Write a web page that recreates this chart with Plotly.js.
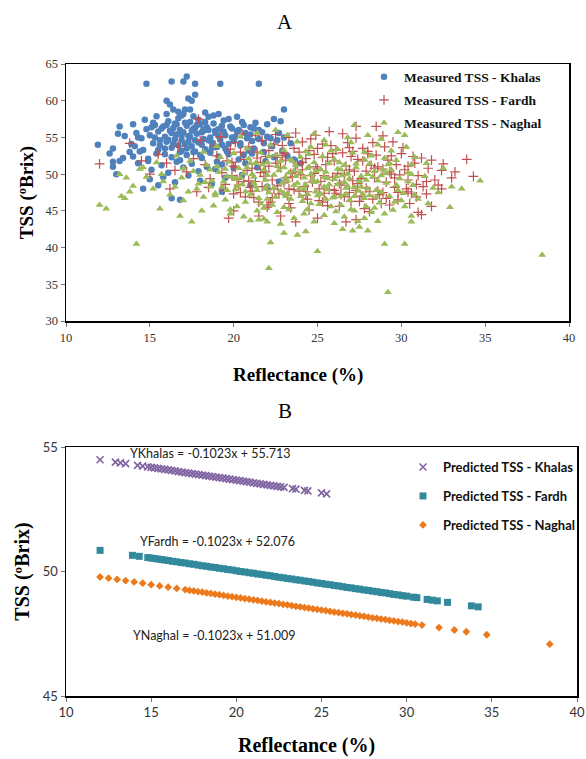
<!DOCTYPE html>
<html>
<head>
<meta charset="utf-8">
<script src="https://cdn.plot.ly/plotly-3.0.1.min.js"></script>
<style>html,body{margin:0;padding:0;background:#fff}#chart{width:586px;height:759px}</style>
</head>
<body>
<div id="chart"></div>
<script>
// ---------- Panel A : measured TSS vs reflectance ----------
const khalasX = [11.9,14.8,16.3,17.0,17.2,17.7,19.2,21.5,16.0,17.3,17.5,17.7,16.2,16.4,16.7,17.1,17.4,18.3,19.1,20.2,23.0,22.4,22.8,13.2,13.1,12.8,12.6,12.8,12.8,13.0,13.2,14.6,15.5,16.3,16.8,19.3,21.0,22.0,22.7,23.6,23.2,24.0,
14.2,14.5,14.8,15.0,15.2,15.3,15.5,15.6,15.8,15.9,16.0,16.1,16.2,16.3,16.4,16.5,16.6,16.7,16.8,16.9,17.0,17.1,17.2,17.3,17.4,17.5,17.6,17.7,17.8,17.9,18.0,18.1,18.2,18.3,18.4,18.5,18.6,18.7,18.8,18.9,19.0,19.1,19.2,19.4,19.5,19.6,19.8,20.0,20.2,20.4,20.6,20.8,21.0,21.2,21.5,21.8,22.0,22.3,22.6,23.0,
13.8,14.0,14.3,14.6,14.9,15.1,15.4,15.7,15.9,16.1,16.3,16.6,16.8,17.0,17.2,17.5,17.7,17.9,18.1,18.4,18.6,18.9,19.1,19.3,19.7,20.0,20.3,20.7,21.1,21.4,21.9,22.4,15.0,15.8,16.5,17.3,18.0,18.7,19.5,20.5,
14.0,14.7,15.4,16.0,16.9,17.6,18.8,19.7,20.5,21.3,21.0,22.0,13.5,13.9,14.1,15.6,16.4,17.2,18.2,19.3,20.1,20.9,21.7,22.7,23.4,18.5,17.8,16.6,19.9,15.1,
15.3,15.7,16.1,16.5,16.9,17.3,17.7,18.1,18.5,18.9,19.3,19.7,15.5,15.9,16.3,16.7,17.1,17.5,17.9,18.3,18.7,19.1,19.5,19.9,20.3,20.7,21.1,21.5,14.4,14.9,15.2,16.8,17.4,18.6,19.0,20.6,21.2,21.8,22.2,22.9,16.0,16.9,17.6,18.2,17.0,18.0,19.4,20.4,13.4,14.3];
const khalasY = [54.0,62.3,62.6,62.6,63.3,62.3,62.3,62.3,60.0,60.3,60.0,60.8,59.5,58.8,58.5,58.8,58.8,58.4,58.2,57.8,58.8,57.5,57.2,56.5,55.5,53.5,52.8,51.7,51.0,50.0,51.8,48.0,48.5,46.7,46.5,47.6,48.5,48.3,49.0,52.0,52.5,51.5,
55.6,54.9,56.1,55.3,54.2,56.7,55.8,53.9,56.5,55.1,54.4,57.2,55.9,53.6,56.3,54.8,55.4,57.6,56.0,53.2,55.7,54.1,56.6,55.2,57.1,53.8,56.2,54.6,55.5,57.4,56.8,54.0,55.9,53.4,56.4,57.8,55.0,54.3,56.9,55.6,53.7,56.1,54.7,57.3,55.3,53.1,56.5,54.5,55.8,53.9,56.7,54.9,55.4,53.5,56.0,54.2,55.1,53.8,54.6,55.0,
53.0,52.4,51.5,53.3,52.1,50.6,52.8,51.2,53.5,50.2,52.3,51.7,53.0,50.9,52.6,51.4,53.1,50.4,52.2,51.0,52.9,50.7,52.4,51.3,52.7,50.8,52.0,51.5,52.8,50.9,51.8,52.3,49.3,49.6,48.9,49.8,49.1,48.7,49.5,49.9,
56.8,57.4,57.9,58.2,58.0,57.9,58.0,57.5,57.1,57.0,56.4,56.8,55.2,54.1,53.8,54.6,54.1,53.5,54.8,54.0,55.1,53.2,55.7,55.6,54.2,56.0,56.7,56.8,56.2,56.4,
55.0,56.2,54.7,56.9,55.3,54.4,56.3,55.7,54.6,55.9,56.6,54.1,53.3,52.7,55.6,53.9,57.0,55.9,54.3,57.1,53.6,55.2,53.5,55.0,56.0,55.6,54.5,54.8,53.1,51.8,57.0,51.9,55.1,53.0,51.7,52.6,56.2,53.0,54.9,53.2,56.7,54.6,53.0,56.1,58.2,52.6,55.8,54.2,52.2,55.0];

const fardhX = [12.0,13.8,14.5,15.0,16.5,17.9,19.7,20.0,21.5,22.0,22.8,23.7,25.0,26.7,27.3,27.3,28.5,31.0,31.2,31.8,32.2,32.4,33.0,33.9,34.3,30.5,31.5,29.8,30.4,
19.0,19.3,19.5,19.8,20.0,20.2,20.4,20.6,20.8,21.0,21.2,21.4,21.6,21.8,22.0,22.2,22.4,22.6,22.8,23.0,23.2,23.4,23.6,23.8,24.0,24.2,24.4,24.6,24.8,25.0,25.2,25.4,25.6,25.8,26.0,26.2,26.4,26.6,26.8,27.0,27.2,27.4,27.6,27.8,28.0,28.2,28.4,28.6,28.8,29.0,29.2,29.4,29.6,29.8,30.0,30.2,30.4,30.6,30.8,31.0,31.3,31.6,32.0,32.5,33.2,
21.5,22.1,22.7,23.3,23.9,24.5,25.1,25.7,26.3,26.9,27.5,28.1,28.7,29.3,
15.5,16.0,16.7,17.2,17.6,18.0,18.3,18.6,18.9,19.2,19.6,20.1,20.5,20.9,21.3,21.7,22.1,22.5,22.9,23.3,23.7,24.1,24.5,24.9,25.3,25.7,26.1,26.5,26.9,27.3,27.7,28.3,28.9,29.5,30.1,30.7,31.2,31.8,32.4,
20.3,20.7,21.1,21.9,22.3,23.1,23.5,24.3,24.7,25.5,25.9,26.7,27.1,27.9,28.5,29.1,29.7,30.3,30.9,31.5,24.1,25.3,26.5,27.7,28.9,22.5,23.7,21.3,19.9,18.5,17.8,16.2,
19.4,19.9,20.4,20.9,21.4,21.9,22.4,22.9,23.4,23.9,24.4,24.9,25.4,25.9,26.4,26.9,27.4,27.9,28.4,28.9,29.4,29.9,30.4,30.9,
20.1,20.6,21.1,21.6,22.1,22.6,23.1,23.6,24.1,24.6,25.1,25.6,26.1,26.6,27.1,27.6,28.1,28.6,29.1,29.6,
22.3,23.3,24.3,25.3,26.3,27.3,28.3,29.3,21.7,24.8,26.0,27.0,23.0,25.0,28.0,20.0];
const fardhY = [51.4,54.2,51.8,50.0,50.5,57.5,44.0,45.0,44.3,45.5,44.3,43.5,44.0,43.5,43.8,56.5,56.5,44.8,44.5,45.6,48.5,48.0,49.5,52.0,49.7,46.0,49.0,47.5,47.6,
52.5,50.2,48.6,53.4,51.1,49.3,47.5,52.0,50.5,48.2,46.8,53.0,51.6,49.7,47.9,46.2,54.1,52.3,50.9,48.8,47.1,45.4,53.5,51.4,49.9,48.3,46.6,54.8,52.7,50.7,49.0,47.4,45.7,53.9,51.8,50.1,48.5,46.9,54.3,52.4,50.4,48.7,47.0,45.3,53.1,51.2,49.5,47.7,46.0,53.7,51.9,50.0,48.2,46.5,52.8,50.6,49.2,47.4,51.5,49.8,48.3,50.8,49.2,51.4,50.3,
46.2,45.8,47.3,46.0,47.7,45.1,46.4,47.9,45.6,47.5,46.3,44.9,47.2,45.8,
52.7,51.5,53.8,50.3,52.1,54.6,51.3,49.4,53.9,55.1,51.8,54.3,55.5,53.7,55.3,54.6,53.2,55.4,53.9,55.0,55.6,54.4,53.2,55.3,54.1,55.8,53.3,55.5,53.6,54.9,53.5,54.3,55.2,54.4,53.6,52.4,52.2,51.9,50.5,
48.5,46.9,50.8,52.4,49.2,51.9,49.6,52.1,48.9,51.3,49.6,51.1,49.1,50.4,52.6,48.9,51.3,48.0,46.9,47.3,50.6,52.3,52.9,51.8,50.7,51.5,50.3,49.0,49.8,48.2,47.6,48.0,
47.8,51.6,53.0,49.1,52.2,50.3,48.0,52.6,50.1,53.0,47.6,51.0,49.8,52.8,47.2,50.6,52.0,48.1,50.8,47.5,52.5,49.9,51.1,48.6,
50.9,49.0,47.7,50.2,51.1,48.4,49.5,47.9,51.6,49.8,48.0,52.3,47.4,49.9,53.1,49.4,47.6,51.0,46.7,49.5,
46.8,48.0,47.1,46.2,48.7,47.8,46.6,50.3,48.3,50.1,47.8,46.3,52.9,53.5,52.8,47.3];

const naghalX = [12.0,12.4,13.3,13.5,14.2,15.6,16.8,17.5,18.1,21.0,21.5,22.0,22.2,22.1,23.0,23.8,24.3,25.0,26.5,27.1,27.5,28.0,29.0,29.2,30.2,30.6,30.6,32.9,33.6,34.7,38.4,27.2,29.8,30.2,30.3,30.8,26.8,25.5,22.5,13.2,13.6,14.4,15.7,31.5,30.6,29.7,
16.5,16.9,17.3,17.6,17.9,18.2,18.4,18.7,18.9,19.1,19.3,19.5,19.7,19.9,20.1,20.3,20.5,20.7,20.9,21.1,21.3,21.5,21.7,21.9,22.1,22.3,22.5,22.7,22.9,23.1,23.3,23.5,23.7,23.9,24.1,24.3,24.5,24.7,24.9,25.1,25.3,25.5,25.7,25.9,26.1,26.3,26.5,26.7,26.9,27.1,27.3,27.5,27.7,27.9,28.1,28.3,28.5,28.7,28.9,29.1,29.3,29.5,29.7,29.9,30.1,30.4,30.7,31.0,31.4,31.9,32.5,
22.0,22.4,22.8,23.2,23.6,24.0,24.4,24.8,25.2,25.6,26.0,26.4,26.8,27.2,27.6,28.0,28.4,28.8,23.0,24.2,25.4,26.6,27.8,21.2,20.6,19.4,18.6,25.0,26.2,24.6,23.4,22.6,21.8,21.0,20.2,19.6,18.0,17.0,16.2,15.8,15.2,14.8,14.0,13.8,
20.0,20.8,21.6,22.2,23.0,23.8,24.6,25.4,26.2,27.0,27.8,28.6,29.4,28.2,29.0,26.0,24.0,22.0,19.2,18.2,17.4,16.6,15.4,14.6,19.0,20.4,21.4,23.2,24.8,28.0,28.8,
18.8,19.8,20.6,21.4,22.0,22.8,23.6,24.2,24.8,25.4,26.0,26.6,27.2,27.8,28.4,29.0,29.6,30.2,30.8,31.6,32.2,33.0,24.4,25.8,27.4,26.4,23.0,21.8,28.6,
18.3,18.9,19.5,20.1,20.7,21.3,21.9,22.5,23.1,23.7,24.3,24.9,25.5,26.1,26.7,27.3,27.9,28.5,29.1,29.7,
19.0,19.6,20.2,20.8,21.4,22.0,22.6,23.2,23.8,24.4,25.0,25.6,26.2,26.8,27.4,28.0,28.6,29.2,29.8,30.4,
21.2,21.8,22.4,23.0,23.6,24.2,24.8,25.4,26.0,26.6,27.2,27.8,22.1,23.3,24.5,25.7,26.9,28.1,29.3,30.0,
17.0,17.8,18.6,19.8,20.4,21.0,21.6,22.8,23.4,24.0,24.6,25.2,25.8,26.4,27.0,27.6,28.2,28.8,29.4,30.6];
const naghalY = [45.8,45.3,47.0,46.7,40.5,45.3,44.3,43.5,45.0,43.7,43.8,43.5,40.7,37.2,42.0,41.7,42.2,39.5,42.5,42.3,42.8,42.3,40.5,33.9,40.5,43.5,44.3,45.5,48.0,49.1,39.0,56.7,55.7,55.3,53.7,52.3,55.0,54.0,56.0,50.0,49.5,50.7,50.0,51.5,50.0,48.5,
48.3,49.5,47.6,50.4,48.7,46.9,51.2,49.1,47.4,50.3,48.2,46.5,51.7,49.6,47.9,50.8,48.6,46.2,52.1,50.0,48.3,46.7,51.3,49.2,47.5,45.8,52.6,50.5,48.8,47.0,45.2,51.8,49.7,48.0,46.3,53.1,51.0,49.3,47.6,45.9,52.4,50.3,48.6,46.8,44.9,51.6,49.8,48.1,46.4,52.9,50.9,49.0,47.3,45.6,51.4,49.6,47.8,46.1,50.6,48.8,47.0,45.1,51.9,49.4,47.4,50.2,48.5,46.6,49.7,48.1,50.8,
48.4,49.9,47.7,49.1,48.5,50.2,47.3,48.9,50.6,47.9,49.3,47.0,50.1,48.2,49.7,48.0,50.4,47.5,50.9,49.5,48.3,51.2,46.7,49.6,50.1,49.0,50.6,49.0,48.6,46.0,46.6,44.8,45.4,47.2,45.6,47.8,49.9,46.4,47.2,49.0,48.0,49.6,48.4,47.6,
52.8,53.5,52.9,54.0,53.3,54.4,53.7,54.6,53.4,54.3,53.0,54.0,53.2,52.5,52.2,52.0,52.3,51.6,52.3,53.0,51.8,52.5,51.6,50.9,53.8,55.1,55.6,55.3,55.5,55.3,54.8,
45.7,44.6,44.2,45.0,46.6,43.2,44.0,44.6,43.5,44.4,43.3,44.2,45.0,44.0,45.4,44.6,46.2,45.6,47.2,46.0,47.5,48.3,45.2,45.6,43.6,45.8,45.5,43.9,43.6,
48.9,47.1,50.7,49.3,47.6,51.5,48.0,46.9,49.6,51.2,48.6,50.4,46.6,49.7,47.3,51.4,49.2,46.9,50.1,48.5,
51.0,49.7,48.4,50.9,47.8,49.9,51.1,47.3,48.8,50.8,47.1,49.4,50.7,48.4,47.7,50.0,49.1,51.3,47.8,49.0,
48.8,50.6,48.1,47.4,50.5,48.0,51.6,49.6,46.9,48.9,47.0,52.0,52.4,50.2,52.7,51.5,49.4,47.1,51.5,46.4,
50.8,48.0,48.3,45.2,49.5,51.5,46.0,51.8,52.0,47.0,50.0,47.3,53.2,50.6,45.2,48.3,44.8,49.8,50.6,51.3];

// ---------- Panel B : predicted TSS vs reflectance ----------
const predKhalasX = [12.0,12.9,13.2,13.5,14.2,14.5,14.8,15.0,15.2,15.4,15.6,15.8,16.0,16.2,16.4,16.6,16.8,17.0,17.2,17.4,17.6,17.8,18.0,18.2,18.4,18.6,18.8,19.0,19.2,19.4,19.6,19.8,20.0,20.2,20.4,20.6,20.8,21.0,21.2,21.4,21.6,21.8,22.0,22.2,22.4,22.6,22.8,23.3,23.5,24.0,24.2,25.0,25.3];
const predKhalasY = [54.49,54.39,54.36,54.33,54.26,54.23,54.20,54.18,54.16,54.14,54.12,54.10,54.08,54.06,54.04,54.01,53.99,53.97,53.95,53.93,53.91,53.89,53.87,53.85,53.83,53.81,53.79,53.77,53.75,53.73,53.71,53.69,53.67,53.65,53.63,53.61,53.59,53.56,53.54,53.52,53.50,53.48,53.46,53.44,53.42,53.40,53.38,53.33,53.31,53.26,53.24,53.16,53.12];

const predFardhX = [12.0,13.9,14.3,14.8,15.0,15.2,15.4,15.6,15.8,16.0,16.25,16.5,16.75,17.0,17.25,17.5,17.75,18.0,18.25,18.5,18.75,19.0,19.25,19.5,19.75,20.0,20.25,20.5,20.75,21.0,21.25,21.5,21.75,22.0,22.25,22.5,22.75,23.0,23.25,23.5,23.75,24.0,24.25,24.5,24.75,25.0,25.25,25.5,25.75,26.0,26.25,26.5,26.75,27.0,27.25,27.5,27.75,28.0,28.25,28.5,28.75,29.0,29.25,29.5,29.75,30.0,30.4,30.6,31.2,31.5,31.8,32.4,33.8,34.2];
const predFardhY = [50.85,50.65,50.61,50.56,50.54,50.52,50.50,50.48,50.46,50.44,50.41,50.39,50.36,50.34,50.31,50.29,50.26,50.23,50.21,50.18,50.16,50.13,50.11,50.08,50.06,50.03,50.00,49.98,49.95,49.93,49.90,49.88,49.85,49.83,49.80,49.77,49.75,49.72,49.70,49.67,49.65,49.62,49.60,49.57,49.54,49.52,49.49,49.47,49.44,49.42,49.39,49.36,49.34,49.31,49.29,49.26,49.24,49.21,49.19,49.16,49.14,49.11,49.08,49.06,49.03,49.01,48.97,48.95,48.88,48.85,48.82,48.76,48.62,48.58];

const predNaghalX = [12.0,12.5,13.0,13.5,14.0,14.5,15.0,15.5,16.0,16.5,17.0,17.25,17.5,17.75,18.0,18.25,18.5,18.75,19.0,19.25,19.5,19.75,20.0,20.25,20.5,20.75,21.0,21.25,21.5,21.75,22.0,22.25,22.5,22.75,23.0,23.25,23.5,23.75,24.0,24.25,24.5,24.75,25.0,25.25,25.5,25.75,26.0,26.25,26.5,26.75,27.0,27.25,27.5,27.75,28.0,28.25,28.5,28.75,29.0,29.25,29.5,29.75,30.0,30.25,30.5,30.9,31.9,32.8,33.5,34.7,38.4];
const predNaghalY = [49.78,49.73,49.68,49.63,49.58,49.53,49.47,49.42,49.37,49.32,49.27,49.24,49.22,49.19,49.17,49.14,49.12,49.09,49.07,49.04,49.01,48.99,48.96,48.94,48.91,48.89,48.86,48.84,48.81,48.78,48.76,48.73,48.71,48.68,48.66,48.63,48.60,48.58,48.55,48.53,48.50,48.48,48.45,48.43,48.40,48.37,48.35,48.32,48.30,48.27,48.25,48.22,48.20,48.17,48.14,48.12,48.09,48.07,48.04,48.02,47.99,47.97,47.94,47.91,47.89,47.85,47.75,47.65,47.58,47.46,47.08];

const xTicks = [10,15,20,25,30,35,40];
const yTicksA = [30,35,40,45,50,55,60,65];
const yTicksB = [45,50,55];
const equations = ['YKhalas = -0.1023x + 55.713','YFardh = -0.1023x + 52.076','YNaghal = -0.1023x + 51.009'];
const xTitle = 'Reflectance (%)';
const yTitle = 'TSS (ºBrix)';

const W = 586, H = 759;
const px = v => v / W, py = v => 1 - v / H;

const serif = '"Liberation Serif", "Times New Roman", Times, serif';
const sans = 'Lato, "Liberation Sans", sans-serif';

const legA = {font:{family:serif,size:13.5,color:'#111',weight:'bold'},bgcolor:'rgba(0,0,0,0)',xanchor:'left',yanchor:'middle',itemwidth:30,tracegroupgap:0};
const legB = {font:{family:sans,size:13,color:'#111',weight:'bold'},bgcolor:'rgba(0,0,0,0)',xanchor:'left',yanchor:'middle',itemwidth:30,tracegroupgap:0};

const traces = [
  {x:khalasX,y:khalasY,type:'scatter',mode:'markers',name:'Measured TSS - Khalas',xaxis:'x',yaxis:'y',legend:'legend',
   marker:{symbol:'circle',size:6.5,color:'#4F81BD'}},
  {x:fardhX,y:fardhY,type:'scatter',mode:'markers',name:'Measured TSS - Fardh',xaxis:'x',yaxis:'y',legend:'legend2',
   marker:{symbol:'cross-thin',size:7,color:'#C0504D',line:{color:'#C0504D',width:1.2}}},
  {x:naghalX,y:naghalY,type:'scatter',mode:'markers',name:'Measured TSS - Naghal',xaxis:'x',yaxis:'y',legend:'legend3',
   marker:{symbol:'triangle-up',size:7,color:'#9BBB59'}},
  {x:predKhalasX,y:predKhalasY,type:'scatter',mode:'markers',name:'Predicted TSS - Khalas',xaxis:'x2',yaxis:'y2',legend:'legend4',
   marker:{symbol:'x-thin',size:7,color:'#8064A2',line:{color:'#8064A2',width:1.6}}},
  {x:predFardhX,y:predFardhY,type:'scatter',mode:'markers',name:'Predicted TSS - Fardh',xaxis:'x2',yaxis:'y2',legend:'legend5',
   marker:{symbol:'square',size:7,color:'#31899B'}},
  {x:predNaghalX,y:predNaghalY,type:'scatter',mode:'markers',name:'Predicted TSS - Naghal',xaxis:'x2',yaxis:'y2',legend:'legend6',
   marker:{symbol:'diamond',size:6,color:'#EC7A1C'}}
];

const axisCommon = {showgrid:false,zeroline:false,showline:true,linecolor:'#000',linewidth:1.5,mirror:true,
  ticks:'outside',ticklen:4,tickcolor:'#777',tickwidth:1};

const ann = (text,x,y,font) => ({text:text,xref:'paper',yref:'paper',x:px(x),y:py(y),xanchor:'center',yanchor:'middle',showarrow:false,font:font});

const layout = {
  width:W,height:H,margin:{l:0,r:0,t:0,b:0},paper_bgcolor:'#fff',plot_bgcolor:'#fff',showlegend:true,
  xaxis:Object.assign({},axisCommon,{domain:[px(66),px(569)],range:[10,40],tickvals:xTicks,anchor:'y',
    tickfont:{family:serif,size:12.5,color:'#333'}}),
  yaxis:Object.assign({},axisCommon,{domain:[py(321),py(64)],range:[30,65],tickvals:yTicksA,anchor:'x',
    tickfont:{family:serif,size:12.5,color:'#333'},
    title:{text:yTitle,font:{family:serif,size:19,color:'#000',weight:'bold'},standoff:7}}),
  xaxis2:Object.assign({},axisCommon,{domain:[px(66),px(577)],range:[10,40],tickvals:xTicks,anchor:'y2',
    tickfont:{family:sans,size:13,color:'#333'}}),
  yaxis2:Object.assign({},axisCommon,{domain:[py(696),py(447)],range:[45,55],tickvals:yTicksB,anchor:'x2',
    tickfont:{family:sans,size:13,color:'#333'},
    title:{text:yTitle,font:{family:serif,size:20,color:'#000',weight:'bold'},standoff:8}}),
  legend:Object.assign({},legA,{x:px(364),y:py(77)}),
  legend2:Object.assign({},legA,{x:px(364),y:py(100)}),
  legend3:Object.assign({},legA,{x:px(364),y:py(123)}),
  legend4:Object.assign({},legB,{x:px(403),y:py(467)}),
  legend5:Object.assign({},legB,{x:px(403),y:py(496)}),
  legend6:Object.assign({},legB,{x:px(403),y:py(525)}),
  annotations:[
    ann('A',285,22,{family:serif,size:21,color:'#000'}),
    ann('B',285,411,{family:serif,size:21,color:'#000'}),
    ann(xTitle,298,375,{family:serif,size:19,color:'#000',weight:'bold'}),
    ann(xTitle,306,745,{family:serif,size:20,color:'#000',weight:'bold'}),
    ann(equations[0],210,454,{family:sans,size:12.5,color:'#222'}),
    ann(equations[1],217,541,{family:sans,size:12.5,color:'#222'}),
    ann(equations[2],214,635,{family:sans,size:12.5,color:'#222'})
  ]
};

Plotly.newPlot('chart',traces,layout,{staticPlot:true,displayModeBar:false});
</script>
</body>
</html>
